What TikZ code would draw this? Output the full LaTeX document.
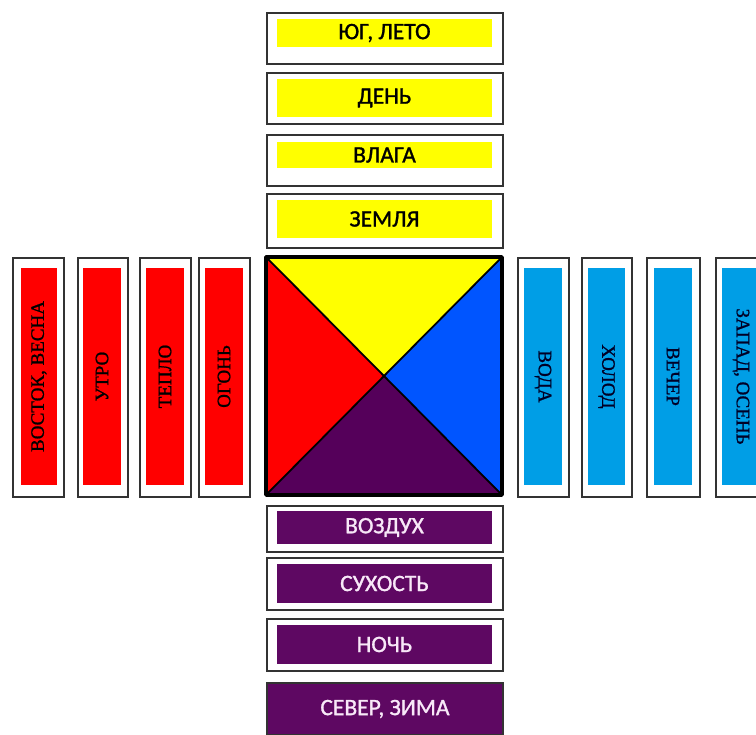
\documentclass[tikz,border=0pt]{standalone}
\usepackage{fontspec}
\setmainfont[FakeBold=1.2]{Carlito}
\newfontfamily\sidefont[FakeBold=1]{Liberation Serif}
\usepackage{xcolor}
\usepackage{tikz}
\usetikzlibrary{positioning}

\definecolor{sunyel}{RGB}{255,255,0}
\definecolor{firered}{RGB}{255,0,0}
\definecolor{skyblue}{RGB}{0,158,230}
\definecolor{deepblue}{RGB}{0,85,255}
\definecolor{plum}{RGB}{94,8,98}
\definecolor{darkplum}{RGB}{85,0,90}
\definecolor{paletext}{RGB}{248,232,248}

\begin{document}
\begin{tikzpicture}[
x=1pt, y=-1pt,
font=\fontsize{23.5}{25}\selectfont,
frame/.style={draw=black!80, line width=1.3pt, fill=white, inner sep=0pt},
hbox/.style={inner sep=0pt, minimum width=215pt},
vbox/.style={inner sep=0pt, minimum width=217pt, font=\sidefont\fontsize{19}{21}\selectfont},
south/.style={hbox, fill=sunyel, text=black},
north/.style={hbox, fill=plum, text=paletext},
east/.style={vbox, fill=firered, text=black, rotate=90},
west/.style={vbox, fill=skyblue, text=black!85!blue, rotate=-90}
]
\useasboundingbox (0,0) rectangle (756,735);
% top column
\node[frame, minimum width=236pt, minimum height=51pt] (f1) at (385,38.5) {};
\node[south, minimum height=28pt] (summer) at (384.5,33) {ЮГ, ЛЕТО};
\node[frame, minimum width=236pt, minimum height=51pt] (f2) at (385,98.5) {};
\node[south, minimum height=38pt] (day) at (384.5,98) {ДЕНЬ};
\node[frame, minimum width=236pt, minimum height=51pt] (f3) at (385,160.5) {};
\node[south, minimum height=26pt] (damp) at (384.5,155) {ВЛАГА};
\node[frame, minimum width=236pt, minimum height=54pt] (f4) at (385,221) {};
\node[south, minimum height=38pt] (earth) at (384.5,219) {ЗЕМЛЯ};
% left row
\node[frame, minimum width=51pt, minimum height=239pt] (g1) at (38.5,377.5) {};
\node[east, minimum height=36pt] (spring) at (39,376.5) {ВОСТОК, ВЕСНА};
\node[frame, minimum width=50pt, minimum height=239pt] (g2) at (103,377.5) {};
\node[east, minimum height=38pt] (morning) at (102,376.5) {УТРО};
\node[frame, minimum width=51pt, minimum height=239pt] (g3) at (165.5,377.5) {};
\node[east, minimum height=38pt] (warmth) at (165,376.5) {ТЕПЛО};
\node[frame, minimum width=51pt, minimum height=239pt] (g4) at (224.5,377.5) {};
\node[east, minimum height=38pt] (fire) at (224,376.5) {ОГОНЬ};
% right row
\node[frame, minimum width=51pt, minimum height=239pt] (h1) at (543.5,377.5) {};
\node[west, minimum height=38pt] (water) at (543,376.5) {ВОДА};
\node[frame, minimum width=50pt, minimum height=239pt] (h2) at (607,377.5) {};
\node[west, minimum height=37pt] (cold) at (606.5,376.5) {ХОЛОД};
\node[frame, minimum width=53pt, minimum height=239pt] (h3) at (673.5,377.5) {};
\node[west, minimum height=38pt] (evening) at (673,376.5) {ВЕЧЕР};
\node[frame, minimum width=51pt, minimum height=239pt] (h4) at (741.5,377.5) {};
\node[west, minimum height=38pt] (autumn) at (741,376.5) {ЗАПАД, ОСЕНЬ};
% bottom column
\node[frame, minimum width=236pt, minimum height=46pt] (k1) at (385,529) {};
\node[north, minimum height=33pt] (air) at (384.5,527.5) {ВОЗДУХ};
\node[frame, minimum width=236pt, minimum height=52pt] (k2) at (385,584) {};
\node[north, minimum height=39pt] (dry) at (384.5,583.5) {СУХОСТЬ};
\node[frame, minimum width=236pt, minimum height=52pt] (k3) at (385,645) {};
\node[north, minimum height=39pt] (night) at (384.5,644.5) {НОЧЬ};
\node[draw=black!80, line width=1.3pt, fill=plum, text=paletext, inner sep=0pt,
  minimum width=236pt, minimum height=52pt] (winter) at (385,709) {СЕВЕР, ЗИМА};
% centre square
\coordinate (nw) at (266,257);
\coordinate (ne) at (502,257);
\coordinate (se) at (502,495);
\coordinate (sw) at (266,495);
\coordinate (mid) at (384,376);
\fill[sunyel] (nw) -- (ne) -- (mid) -- cycle;
\fill[deepblue] (ne) -- (se) -- (mid) -- cycle;
\fill[darkplum] (se) -- (sw) -- (mid) -- cycle;
\fill[firered] (sw) -- (nw) -- (mid) -- cycle;
\draw[line width=1.8pt] (nw) -- (se) (ne) -- (sw);
\draw[line width=3.5pt, line join=round] (nw) rectangle (se);
\end{tikzpicture}
\end{document}
